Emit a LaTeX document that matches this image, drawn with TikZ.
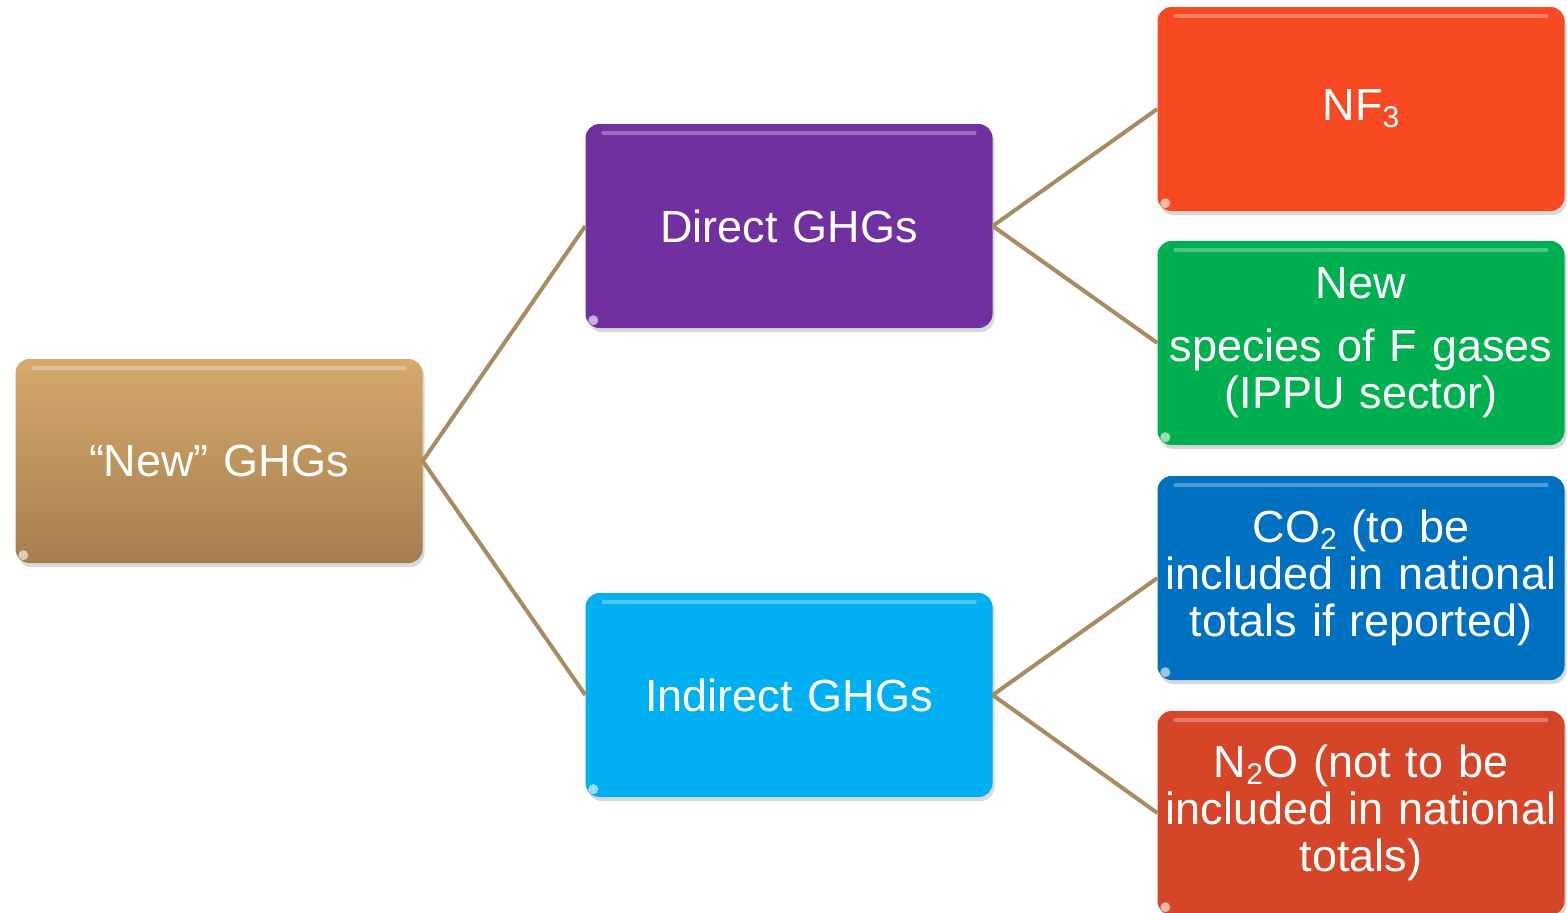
\documentclass[tikz,border=0pt]{standalone}
\usepackage{fontspec}
\setmainfont{Liberation Sans}
\usetikzlibrary{shadows}
\definecolor{tanA}{HTML}{D6A96C}
\definecolor{tanB}{HTML}{A67E4E}
\definecolor{purp}{HTML}{7030A0}
\definecolor{cyanb}{HTML}{00B0F0}
\definecolor{redA}{HTML}{F74A23}
\definecolor{greenb}{HTML}{00B050}
\definecolor{blueb}{HTML}{0070C0}
\definecolor{redB}{HTML}{D54629}
\definecolor{linkc}{HTML}{A88B5E}
\newcommand\mysub[1]{\raisebox{-7pt}{\fontsize{30}{30}\selectfont #1}}
\tikzset{
  box/.style={rectangle, rounded corners=14pt, minimum width=407pt, minimum height=204pt,
    text width=400pt, align=center, text=white, inner sep=0pt,
    font=\fontsize{45}{47}\selectfont,
    drop shadow={opacity=0.3, shadow xshift=2pt, shadow yshift=-4pt}},
  link/.style={draw=linkc, line width=4pt},
  gloss/.style={white, opacity=0.3, line width=4pt, line cap=round}
}
\begin{document}
\begin{tikzpicture}[x=1pt,y=-1pt]
\useasboundingbox (0,0) rectangle (1567,913);
\node[box, top color=tanA, bottom color=tanB] (new) at (219,461) {“New” GHGs};
\node[box, fill=purp] (direct) at (789,226) {Direct GHGs};
\node[box, fill=cyanb] (indirect) at (789,695) {Indirect GHGs};
\node[box, fill=redA] (nf) at (1361,109) {NF\mysub{3}};
\node[box, fill=greenb] (fg) at (1361,343) {\raisebox{0pt}{}New\\[16pt]species of F gases\\(IPPU sector)};
\node[box, fill=blueb] (co) at (1361,578) {CO\mysub{2} (to be\\included in national\\totals if reported)};
\node[box, fill=redB] (no) at (1361,813) {N\mysub{2}O (not to be\\included in national\\totals)};
\foreach \n in {new,direct,indirect,nf,fg,co,no}{
  \draw[gloss] ([xshift=18pt,yshift=-9pt]\n.north west) -- ([xshift=-18pt,yshift=-9pt]\n.north east);
  \fill[white, opacity=0.6] ([xshift=8pt,yshift=8pt]\n.south west) circle (5pt);
}
\draw[link] (new.east) -- (direct.west);
\draw[link] (new.east) -- (indirect.west);
\draw[link] (direct.east) -- (nf.west);
\draw[link] (direct.east) -- (fg.west);
\draw[link] (indirect.east) -- (co.west);
\draw[link] (indirect.east) -- (no.west);
\end{tikzpicture}
\end{document}
